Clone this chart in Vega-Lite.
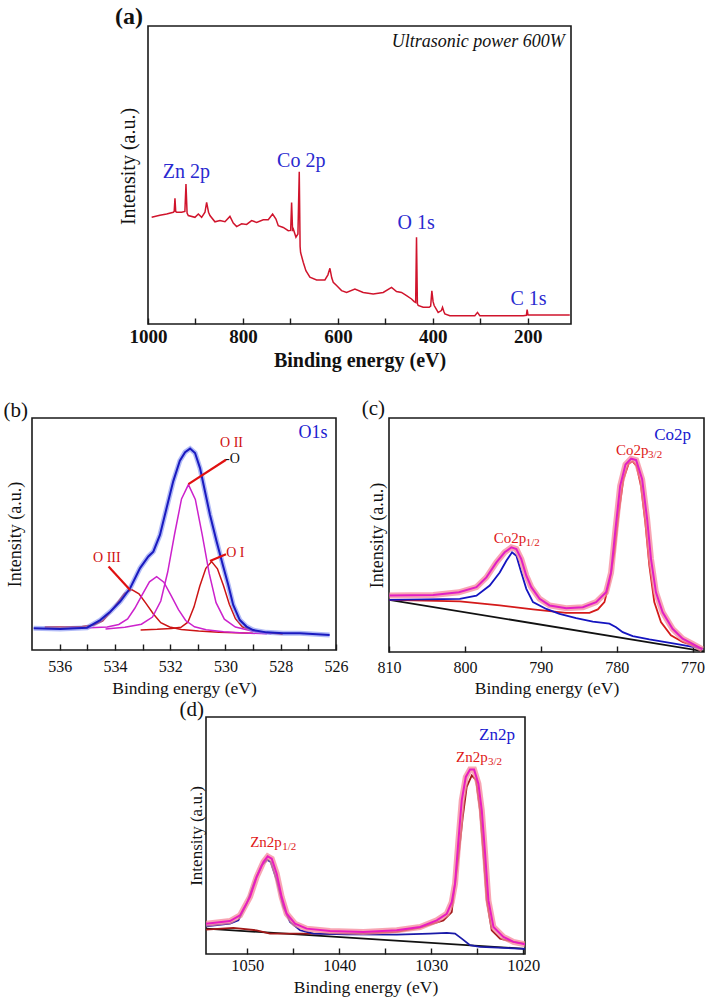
{
"$schema": "https://vega.github.io/schema/vega-lite/v6.json",
"padding": {"left": 2, "top": 4, "right": 0, "bottom": 0},
"background": "white",
"spacing": 0,
"datasets": {
"survey": [{"E":992.3,"v":35.8},{"E":975,"v":36.5},{"E":960.7,"v":36.9},{"E":946.7,"v":37.5},{"E":944.8,"v":37.8},{"E":943.2,"v":42.2},{"E":941.6,"v":37.7},{"E":939.6,"v":37.5},{"E":929.1,"v":37.5},{"E":922.3,"v":37.8},{"E":920,"v":47.0},{"E":917.7,"v":37.2},{"E":915.1,"v":36.4},{"E":901.1,"v":35.8},{"E":894,"v":36.9},{"E":887,"v":35.8},{"E":880,"v":37.5},{"E":876.5,"v":40.8},{"E":872.5,"v":37.5},{"E":869.5,"v":36.4},{"E":859,"v":34.3},{"E":848.4,"v":34.7},{"E":837.9,"v":34.3},{"E":827.4,"v":36.1},{"E":820.4,"v":33.9},{"E":813.3,"v":32.7},{"E":802.8,"v":33.6},{"E":792.3,"v":33.4},{"E":781.7,"v":34.7},{"E":771.2,"v":34.1},{"E":757.2,"v":35.0},{"E":746.7,"v":35.0},{"E":737.5,"v":36.9},{"E":730.5,"v":35.2},{"E":725.6,"v":33.0},{"E":715.1,"v":32.4},{"E":704.6,"v":31.3},{"E":699.5,"v":31.4},{"E":697.5,"v":40.8},{"E":695.5,"v":31.6},{"E":694,"v":31.9},{"E":688.4,"v":29.1},{"E":684.2,"v":30.2},{"E":681.4,"v":51.1},{"E":679.6,"v":26},{"E":678.6,"v":24.0},{"E":673,"v":20.7},{"E":667.4,"v":17.9},{"E":659,"v":15.7},{"E":644.9,"v":14.8},{"E":627.4,"v":14.8},{"E":621,"v":16.5},{"E":616.8,"v":18.7},{"E":613,"v":15.5},{"E":609.8,"v":14.0},{"E":602.8,"v":12.9},{"E":592.3,"v":11.2},{"E":581.7,"v":10.6},{"E":564.2,"v":11.7},{"E":546.7,"v":10.6},{"E":525.6,"v":10.1},{"E":504.6,"v":10.6},{"E":487,"v":12.3},{"E":476.5,"v":10.9},{"E":466,"v":10.6},{"E":455.4,"v":9.5},{"E":444.9,"v":8.4},{"E":439.3,"v":7.5},{"E":436.2,"v":7.2},{"E":434.4,"v":29.1},{"E":432.6,"v":6.9},{"E":430.9,"v":6.2},{"E":420.4,"v":5.6},{"E":407.7,"v":5.6},{"E":404.6,"v":6.0},{"E":402.1,"v":11.1},{"E":399.5,"v":7.5},{"E":397.2,"v":6.2},{"E":388.8,"v":3.9},{"E":382,"v":4.5},{"E":379.6,"v":5.6},{"E":377,"v":4.3},{"E":374.7,"v":3.4},{"E":364.2,"v":2.8},{"E":329.1,"v":2.8},{"E":311.6,"v":2.8},{"E":306,"v":3.9},{"E":301.1,"v":2.8},{"E":259,"v":2.8},{"E":209.8,"v":2.8},{"E":203,"v":2.9},{"E":201.4,"v":4.8},{"E":199.5,"v":3.0},{"E":197.2,"v":3.0},{"E":153.7,"v":3.0},{"E":111.6,"v":3.0}],
"a_labels": [{"label":"Zn 2p","E":919.3,"v":50.9},{"label":"Co 2p","E":677.2,"v":54.8},{"label":"O 1s","E":435.1,"v":33.9},{"label":"C 1s","E":198.6,"v":8.4}],
"a_note": [{"label":"Ultrasonic power 600W","E":122.1,"v":94.6}],
"b_O3": [{"E":536.54,"v":9.9},{"E":535.81,"v":9.9},{"E":535.18,"v":10.1},{"E":534.76,"v":10.8},{"E":534.44,"v":12.6},{"E":534.18,"v":16.0},{"E":533.91,"v":20.4},{"E":533.65,"v":24.4},{"E":533.39,"v":26.0},{"E":533.13,"v":24.2},{"E":532.87,"v":20.0},{"E":532.60,"v":15.4},{"E":532.34,"v":11.8},{"E":532.02,"v":9.9},{"E":531.60,"v":8.85},{"E":530.97,"v":8.2},{"E":530.24,"v":7.7},{"E":529.0,"v":7.2}],
"b_O2b": [{"E":535.64,"v":9.5},{"E":534.91,"v":9.6},{"E":534.28,"v":9.95},{"E":533.86,"v":11.0},{"E":533.54,"v":13.4},{"E":533.28,"v":18.0},{"E":533.01,"v":23.9},{"E":532.75,"v":29.4},{"E":532.49,"v":31.6},{"E":532.23,"v":29.2},{"E":531.97,"v":23.5},{"E":531.70,"v":17.4},{"E":531.44,"v":12.7},{"E":531.12,"v":10.0},{"E":530.70,"v":8.7},{"E":530.07,"v":7.9},{"E":529.34,"v":7.3},{"E":528.5,"v":7.0}],
"b_O2": [{"E":534.34,"v":9.1},{"E":533.64,"v":9.8},{"E":533.04,"v":11.1},{"E":532.64,"v":14.2},{"E":532.34,"v":21.1},{"E":532.09,"v":33.6},{"E":531.84,"v":50.0},{"E":531.59,"v":65.1},{"E":531.34,"v":71.3},{"E":531.09,"v":64.9},{"E":530.84,"v":49.6},{"E":530.59,"v":33.1},{"E":530.34,"v":20.4},{"E":530.04,"v":13.3},{"E":529.64,"v":9.9},{"E":529.04,"v":8.2},{"E":528.34,"v":7.0}],
"b_O1": [{"E":533.07,"v":8.6},{"E":532.47,"v":8.9},{"E":531.96,"v":9.3},{"E":531.61,"v":9.8},{"E":531.36,"v":12.0},{"E":531.14,"v":18.5},{"E":530.93,"v":27.5},{"E":530.71,"v":35.2},{"E":530.50,"v":38.1},{"E":530.29,"v":35.0},{"E":530.07,"v":27.7},{"E":529.86,"v":19.7},{"E":529.64,"v":13.5},{"E":529.39,"v":10.0},{"E":529.04,"v":8.4},{"E":528.53,"v":7.5},{"E":527.93,"v":6.8}],
"b_env": [{"E":536.94,"v":9.4},{"E":535.98,"v":9.1},{"E":535.01,"v":9.6},{"E":534.53,"v":12.9},{"E":534.17,"v":16.5},{"E":533.81,"v":20.9},{"E":533.45,"v":26.6},{"E":533.09,"v":35.3},{"E":532.79,"v":40.3},{"E":532.61,"v":42.4},{"E":532.37,"v":49.6},{"E":532.13,"v":61.2},{"E":531.89,"v":72.7},{"E":531.65,"v":81.6},{"E":531.46,"v":85.3},{"E":531.28,"v":86.8},{"E":531.10,"v":84.9},{"E":530.92,"v":78.4},{"E":530.74,"v":68.3},{"E":530.56,"v":58.3},{"E":530.32,"v":46.8},{"E":530.08,"v":36.0},{"E":529.90,"v":28.1},{"E":529.72,"v":19.4},{"E":529.48,"v":12.9},{"E":529.24,"v":10.1},{"E":529.00,"v":8.6},{"E":528.52,"v":7.6},{"E":527.91,"v":7.2},{"E":527.31,"v":7.2},{"E":526.23,"v":6.5}],
"b_lead": [{"E":531.34,"v":71.5,"E2":529.98,"v2":82.0},{"E":534.23,"v":36.0,"E2":533.45,"v2":25.9},{"E":530.56,"v":38.4,"E2":529.98,"v2":41.3}],
"b_red_lbl": [{"label":"O II","E":529.78,"v":89.2},{"label":"O III","E":534.29,"v":39.5},{"label":"O I","E":529.64,"v":41.7}],
"b_black_lbl": [{"label":"-O","E":529.75,"v":82.4}],
"b_blue_lbl": [{"label":"O1s","E":526.83,"v":93.5}],
"c_base": [{"E":810,"v":22.3},{"E":768.5,"v":0.3}],
"c_red": [{"E":809.96,"v":22.3},{"E":800.67,"v":21.6},{"E":795.41,"v":19.9},{"E":791.03,"v":18.2},{"E":786.65,"v":16.7},{"E":783.59,"v":16.7},{"E":782.49,"v":18.2},{"E":781.62,"v":21.3},{"E":780.96,"v":29.8},{"E":780.30,"v":42.6},{"E":779.73,"v":59.6},{"E":779.12,"v":73.8},{"E":778.42,"v":80.6},{"E":777.89,"v":81.4},{"E":777.37,"v":79.4},{"E":776.80,"v":70.9},{"E":776.23,"v":55.3},{"E":775.70,"v":36.9},{"E":775.05,"v":21.3},{"E":774.17,"v":12.8},{"E":772.86,"v":7.1},{"E":771.32,"v":4.3},{"E":768.69,"v":1.4}],
"c_blue": [{"E":809.96,"v":22.3},{"E":800.67,"v":22.7},{"E":798.48,"v":24.1},{"E":796.73,"v":28.4},{"E":795.41,"v":34.0},{"E":794.54,"v":39.0},{"E":793.79,"v":42.6},{"E":793.22,"v":41.1},{"E":792.57,"v":34.0},{"E":791.91,"v":27.0},{"E":791.03,"v":21.3},{"E":789.28,"v":18.4},{"E":787.53,"v":16.3},{"E":785.34,"v":14.5},{"E":783.15,"v":13.0},{"E":780.96,"v":12.1},{"E":780.08,"v":10.6},{"E":779.21,"v":8.5},{"E":777.89,"v":6.8},{"E":775.70,"v":5.4},{"E":772.20,"v":3.5},{"E":768.69,"v":1.4}],
"c_env": [{"E":809.96,"v":24.1},{"E":804.17,"v":24.4},{"E":800.79,"v":25.5},{"E":798.48,"v":27.7},{"E":797.17,"v":31.9},{"E":795.85,"v":38.3},{"E":794.76,"v":42.6},{"E":793.88,"v":44.7},{"E":793.22,"v":44.0},{"E":792.57,"v":39.7},{"E":791.91,"v":32.6},{"E":791.25,"v":27.7},{"E":790.16,"v":22.7},{"E":788.84,"v":19.9},{"E":786.65,"v":18.7},{"E":784.46,"v":19.1},{"E":782.71,"v":21.3},{"E":781.40,"v":25.5},{"E":780.74,"v":34.0},{"E":780.16,"v":52.5},{"E":779.55,"v":70.9},{"E":778.84,"v":80.1},{"E":778.10,"v":82.6},{"E":777.44,"v":82.0},{"E":776.65,"v":73.8},{"E":775.99,"v":56.7},{"E":775.48,"v":39.7},{"E":774.83,"v":25.5},{"E":773.95,"v":17.0},{"E":772.64,"v":9.9},{"E":771.32,"v":5.7},{"E":770.0,"v":3.5},{"E":768.7,"v":1.1}],
"c_blue_lbl": [{"label":"Co2p","E":770.2,"v":92.9}],
"c_red_lbl": [{"label":"Co2p","sub":"3/2","E":780.08,"v":86.5},{"label":"Co2p","sub":"1/2","E":796.2,"v":48.9}],
"d_base": [{"E":1054.5,"v":10.7},{"E":1019.8,"v":2.2}],
"d_red": [{"E":1054.5,"v":10.3},{"E":1051.53,"v":11.0},{"E":1048.99,"v":10.0},{"E":1047.54,"v":8.6},{"E":1042.82,"v":8.6},{"E":1037.38,"v":8.6},{"E":1033.75,"v":9.3},{"E":1031.21,"v":11.1},{"E":1028.68,"v":14.2},{"E":1027.77,"v":17.7},{"E":1027.59,"v":24.1},{"E":1027.04,"v":40.9},{"E":1026.57,"v":57.8},{"E":1026.14,"v":70.5},{"E":1025.59,"v":75.4},{"E":1025.12,"v":73.3},{"E":1024.69,"v":60.6},{"E":1024.32,"v":42.3},{"E":1023.96,"v":22.6},{"E":1023.42,"v":10.0},{"E":1022.51,"v":6.5},{"E":1021.06,"v":5.1},{"E":1019.8,"v":4.4}],
"d_blue": [{"E":1054.5,"v":11.7},{"E":1051.89,"v":12.8},{"E":1050.98,"v":14.2},{"E":1050.07,"v":21.2},{"E":1049.17,"v":31.1},{"E":1048.44,"v":37.4},{"E":1047.83,"v":39.8},{"E":1047.46,"v":38.8},{"E":1046.81,"v":31.1},{"E":1046.08,"v":19.8},{"E":1045.36,"v":13.5},{"E":1044.27,"v":10.0},{"E":1042.82,"v":8.6},{"E":1039.19,"v":8.3},{"E":1033.75,"v":8.2},{"E":1030.13,"v":8.6},{"E":1028.31,"v":8.9},{"E":1027.41,"v":8.6},{"E":1026.68,"v":6.5},{"E":1025.78,"v":3.7},{"E":1024.69,"v":3.0},{"E":1019.8,"v":2.2}],
"d_env": [{"E":1054.5,"v":12.8},{"E":1051.89,"v":13.9},{"E":1050.80,"v":16.3},{"E":1049.71,"v":24.1},{"E":1048.99,"v":32.5},{"E":1048.26,"v":38.8},{"E":1047.79,"v":41.2},{"E":1047.35,"v":40.2},{"E":1046.81,"v":33.9},{"E":1046.27,"v":24.1},{"E":1045.72,"v":17.0},{"E":1044.82,"v":12.8},{"E":1043.55,"v":10.7},{"E":1041.01,"v":9.7},{"E":1037.38,"v":9.3},{"E":1033.75,"v":10.0},{"E":1031.21,"v":11.4},{"E":1029.40,"v":14.2},{"E":1028.31,"v":17.0},{"E":1027.77,"v":21.9},{"E":1027.41,"v":29.7},{"E":1027.04,"v":48.0},{"E":1026.68,"v":64.8},{"E":1026.24,"v":74.7},{"E":1025.78,"v":77.8},{"E":1025.34,"v":77.8},{"E":1024.87,"v":71.9},{"E":1024.50,"v":60.6},{"E":1024.14,"v":42.3},{"E":1023.78,"v":22.6},{"E":1023.23,"v":11.4},{"E":1022.15,"v":7.2},{"E":1021.06,"v":5.1},{"E":1019.8,"v":4.1}],
"d_blue_lbl": [{"label":"Zn2p","E":1020.9,"v":92.3}],
"d_red_lbl": [{"label":"Zn2p","sub":"3/2","E":1027.3,"v":83.1},{"label":"Zn2p","sub":"1/2","E":1049.7,"v":47.3}]
},
"vconcat": [
{"hconcat": [
  {"width": 116, "height": 298, "view": {"stroke": null}, "data": {"values": [{}]}, "mark": {"type": "point", "opacity": 0, "size": 1}},
  {"width": 423, "height": 298,
   "title": {"text": "(a)", "fontSize": 24, "fontWeight": "bold", "align": "right", "dx": -5},
   "encoding": {
     "x": {"field": "E", "type": "quantitative", "scale": {"domain": [109, 1000], "reverse": true, "nice": false, "zero": false},
       "axis": {"title": "Binding energy (eV)", "values": [200,300,400,500,600,700,800,900,1000], "format": "d", "labelExpr": "datum.value % 200 == 0 ? datum.label : ''", "labelFontSize": 19, "labelFontWeight": "bold", "labelPadding": 3, "titleFontSize": 20, "titleFontWeight": "bold", "titlePadding": 4}},
     "y": {"field": "v", "type": "quantitative", "scale": {"domain": [0, 100], "nice": false, "zero": false},
       "axis": {"title": "Intensity (a.u.)", "titleFontSize": 20, "titlePadding": 10, "titleY": 140}}
   },
   "layer": [
     {"data": {"name": "survey"}, "mark": {"type": "line", "color": "#d0142c", "strokeWidth": 1.5, "clip": true}},
     {"data": {"name": "a_labels"}, "mark": {"type": "text", "color": "#2a2ad0", "fontSize": 20, "font": "Liberation Serif"}, "encoding": {"text": {"field": "label"}}},
     {"data": {"name": "a_note"}, "mark": {"type": "text", "align": "right", "fontStyle": "italic", "fontSize": 18, "color": "#111", "font": "Liberation Serif"}, "encoding": {"text": {"field": "label"}}}
   ]}
 ], "spacing": 0, "bounds": "flush"},
{"width": 1, "height": 26, "view": {"stroke": null}, "data": {"values": [{}]}, "mark": {"type": "point", "opacity": 0, "size": 1}},
{"hconcat": [
  {"width": 304, "height": 232,
   "title": {"text": "(b)", "align": "right", "dx": -4},
   "encoding": {
     "x": {"field": "E", "type": "quantitative", "scale": {"domain": [526, 537], "reverse": true, "nice": false, "zero": false},
       "axis": {"title": "Binding energy (eV)", "values": [526,527,528,529,530,531,532,533,534,535,536], "labelExpr": "datum.value % 2 == 0 ? datum.label : ''", "labelFontSize": 16, "labelPadding": 8, "titleFontSize": 17.5, "titlePadding": 5}},
     "y": {"field": "v", "type": "quantitative", "scale": {"domain": [0, 100], "nice": false, "zero": false},
       "axis": {"title": "Intensity (a.u.)", "titleFontSize": 18, "titlePadding": 8}}
   },
   "layer": [
     {"data": {"name": "b_O3"}, "mark": {"type": "line", "color": "#cc1414", "strokeWidth": 1.5, "clip": true}},
     {"data": {"name": "b_O1"}, "mark": {"type": "line", "color": "#cc1414", "strokeWidth": 1.5, "clip": true}},
     {"data": {"name": "b_O2b"}, "mark": {"type": "line", "color": "#cc22cc", "strokeWidth": 1.5, "clip": true}},
     {"data": {"name": "b_O2"}, "mark": {"type": "line", "color": "#cc22cc", "strokeWidth": 1.5, "clip": true}},
     {"data": {"name": "b_env"}, "mark": {"type": "line", "color": "#7d8cf0", "strokeWidth": 5, "opacity": 0.6, "clip": true}},
     {"data": {"name": "b_env"}, "mark": {"type": "line", "color": "#1a1ac0", "strokeWidth": 2, "clip": true}},
     {"data": {"name": "b_lead"}, "mark": {"type": "rule", "color": "#e01010", "strokeWidth": 2.2}, "encoding": {"x2": {"field": "E2"}, "y2": {"field": "v2"}}},
     {"data": {"name": "b_red_lbl"}, "mark": {"type": "text", "color": "#d01010", "fontSize": 14, "font": "Liberation Serif"}, "encoding": {"text": {"field": "label"}}},
     {"data": {"name": "b_black_lbl"}, "mark": {"type": "text", "color": "#111", "fontSize": 14, "font": "Liberation Serif"}, "encoding": {"text": {"field": "label"}}},
     {"data": {"name": "b_blue_lbl"}, "mark": {"type": "text", "color": "#2020d0", "fontSize": 18, "font": "Liberation Serif"}, "encoding": {"text": {"field": "label"}}}
   ]},
  {"width": 315, "height": 234,
   "title": {"text": "(c)", "align": "right", "dx": -4, "offset": -1},
   "encoding": {
     "x": {"field": "E", "type": "quantitative", "scale": {"domain": [768.5, 810], "reverse": true, "nice": false, "zero": false},
       "axis": {"title": "Binding energy (eV)", "values": [770,780,790,800,810], "labelFontSize": 16, "labelPadding": 7, "titleFontSize": 17.5, "titlePadding": 4}},
     "y": {"field": "v", "type": "quantitative", "scale": {"domain": [0, 100], "nice": false, "zero": false},
       "axis": {"title": "Intensity (a.u.)", "titleFontSize": 18, "titlePadding": 3}}
   },
   "layer": [
     {"data": {"name": "c_base"}, "mark": {"type": "line", "color": "#111", "strokeWidth": 1.8, "clip": true}},
     {"data": {"name": "c_red"}, "mark": {"type": "line", "color": "#d41a1a", "strokeWidth": 1.8, "clip": true}},
     {"data": {"name": "c_blue"}, "mark": {"type": "line", "color": "#1414c0", "strokeWidth": 1.8, "clip": true}},
     {"data": {"name": "c_env"}, "mark": {"type": "line", "color": "#f5879a", "strokeWidth": 6, "opacity": 0.75, "clip": true}},
     {"data": {"name": "c_env"}, "mark": {"type": "line", "color": "#e21fc4", "strokeWidth": 2, "clip": true}},
     {"data": {"name": "c_blue_lbl"}, "mark": {"type": "text", "align": "right", "color": "#1a1ad0", "fontSize": 17, "font": "Liberation Serif"}, "encoding": {"text": {"field": "label"}}},
     {"data": {"name": "c_red_lbl"}, "mark": {"type": "text", "align": "left", "color": "#e01818", "fontSize": 15, "font": "Liberation Serif"}, "encoding": {"text": {"field": "label"}}},
     {"data": {"name": "c_red_lbl"}, "mark": {"type": "text", "align": "left", "dx": 32, "dy": 5, "color": "#e01818", "fontSize": 11, "font": "Liberation Serif"}, "encoding": {"text": {"field": "sub"}}}
   ]}
 ], "spacing": 53, "bounds": "flush"},
{"hconcat": [
  {"width": 174, "height": 237, "view": {"stroke": null}, "data": {"values": [{}]}, "mark": {"type": "point", "opacity": 0, "size": 1}},
  {"width": 319, "height": 237,
   "title": {"text": "(d)", "align": "right", "dx": -2},
   "encoding": {
     "x": {"field": "E", "type": "quantitative", "scale": {"domain": [1019.8, 1054.5], "reverse": true, "nice": false, "zero": false},
       "axis": {"title": "Binding energy (eV)", "values": [1020,1025,1030,1035,1040,1045,1050], "format": "d", "labelExpr": "datum.value % 10 == 0 ? datum.label : ''", "labelFontSize": 16.5, "labelPadding": 3, "titleFontSize": 17.5, "titlePadding": 5}},
     "y": {"field": "v", "type": "quantitative", "scale": {"domain": [0, 100], "nice": false, "zero": false},
       "axis": {"title": "Intensity (a.u.)", "titleFontSize": 17, "titlePadding": 1}}
   },
   "layer": [
     {"data": {"name": "d_base"}, "mark": {"type": "line", "color": "#111", "strokeWidth": 1.8, "clip": true}},
     {"data": {"name": "d_red"}, "mark": {"type": "line", "color": "#a01818", "strokeWidth": 1.8, "clip": true}},
     {"data": {"name": "d_blue"}, "mark": {"type": "line", "color": "#1a1aa8", "strokeWidth": 1.8, "clip": true}},
     {"data": {"name": "d_env"}, "mark": {"type": "line", "color": "#f5879a", "strokeWidth": 6, "opacity": 0.75, "clip": true}},
     {"data": {"name": "d_env"}, "mark": {"type": "line", "color": "#e81cc0", "strokeWidth": 2, "clip": true}},
     {"data": {"name": "d_blue_lbl"}, "mark": {"type": "text", "align": "right", "color": "#1a1ad0", "fontSize": 17, "font": "Liberation Serif"}, "encoding": {"text": {"field": "label"}}},
     {"data": {"name": "d_red_lbl"}, "mark": {"type": "text", "align": "left", "color": "#e01818", "fontSize": 15, "font": "Liberation Serif"}, "encoding": {"text": {"field": "label"}}},
     {"data": {"name": "d_red_lbl"}, "mark": {"type": "text", "align": "left", "dx": 32, "dy": 5, "color": "#e01818", "fontSize": 11, "font": "Liberation Serif"}, "encoding": {"text": {"field": "sub"}}}
   ]}
 ], "spacing": 0, "bounds": "flush"}
],
"config": {
  "font": "Liberation Serif",
  "view": {"stroke": "#1a1a1a", "strokeWidth": 1.6},
  "axis": {"grid": false, "domain": false, "labelFont": "Liberation Serif", "titleFont": "Liberation Serif", "labelColor": "#111", "titleColor": "#111", "tickColor": "#1a1a1a", "tickWidth": 1.4, "labelFlush": false, "labelOverlap": false, "titleFontWeight": "normal"},
  "axisX": {"offset": -6, "tickSize": 6},
  "axisY": {"ticks": false, "labels": false},
  "title": {"font": "Liberation Serif", "anchor": "start", "frame": "group", "offset": -3, "color": "#111", "fontWeight": "normal", "fontSize": 21},
  "text": {"font": "Liberation Serif"}
}
}
